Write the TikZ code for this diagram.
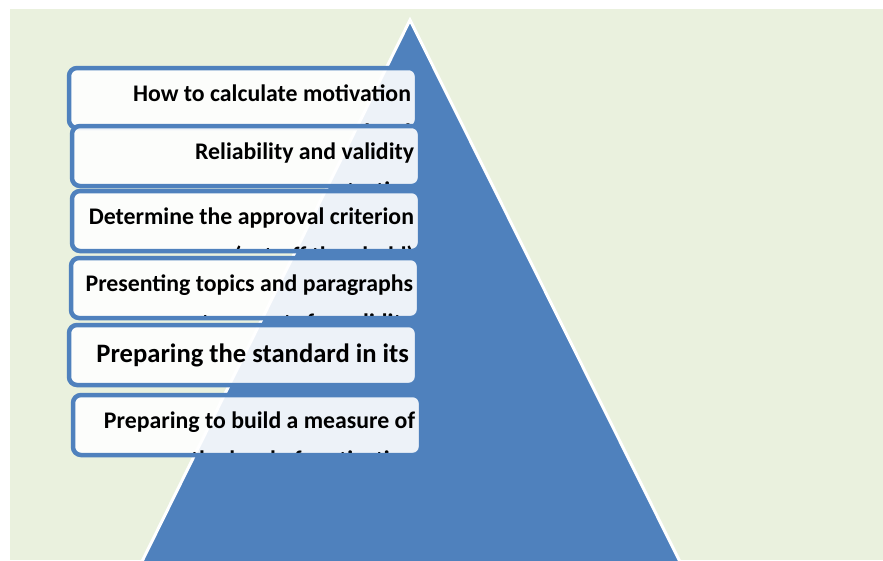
\documentclass[tikz,border=0pt]{standalone}
\usepackage{fontspec}
\setmainfont{Carlito}
\definecolor{pyrblue}{HTML}{4F81BD}
\definecolor{pagegreen}{HTML}{EAF1DE}
\tikzset{
  stagetext/.style={font=\fontsize{23.8}{28}\selectfont\bfseries, inner sep=0pt, draw=none, fill=none,
    text opacity=1, minimum width=0pt, minimum height=0pt, anchor=base east},
  stagebox/.style={draw=pyrblue, line width=4.5pt, rounded corners=8pt, fill=white, fill opacity=0.9,
    draw opacity=1, inner sep=0pt, outer sep=0pt, anchor=north west, minimum width=348pt, minimum height=60pt},
  stagelines/.style 2 args={path picture={
      \node[stagetext] at ([xshift=-6pt,yshift=-33pt]path picture bounding box.north east) {#1};
      \node[stagetext] at ([xshift=-6pt,yshift=-72pt]path picture bounding box.north east) {#2};
    }},
}
\begin{document}
\begin{tikzpicture}[x=1pt, y=-1pt]
\useasboundingbox (0,0) rectangle (883,560);
\clip (0,0) rectangle (883,560);
\fill[pagegreen] (10,9) rectangle (883,560);
% pyramid behind the steps
\draw[white, line width=3pt, fill=pyrblue] (410,20) -- (709,620) -- (113,620) -- cycle;
% steps, top to bottom
\node[stagebox, stagelines={How to calculate motivation}{level}] (calc) at (69,68) {};
\node[stagebox, stagelines={Reliability and validity}{testing}] (reliab) at (72,126) {};
\node[stagebox, stagelines={Determine the approval criterion}{(cut-off threshold)}] (criterion) at (72,191) {};
\node[stagebox, stagelines={Presenting topics and paragraphs}{to experts for validity}] (present) at (71,258) {};
\node[stagebox, path picture={
    \node[stagetext, font=\fontsize{26.6}{31}\selectfont\bfseries] at ([xshift=-8pt,yshift=-37pt]path picture bounding box.north east) {Preparing the standard in its};
  }] (standard) at (69,325) {};
\node[stagebox, stagelines={Preparing to build a measure of}{the level of motivation}] (build) at (73,395) {};
\end{tikzpicture}
\end{document}
